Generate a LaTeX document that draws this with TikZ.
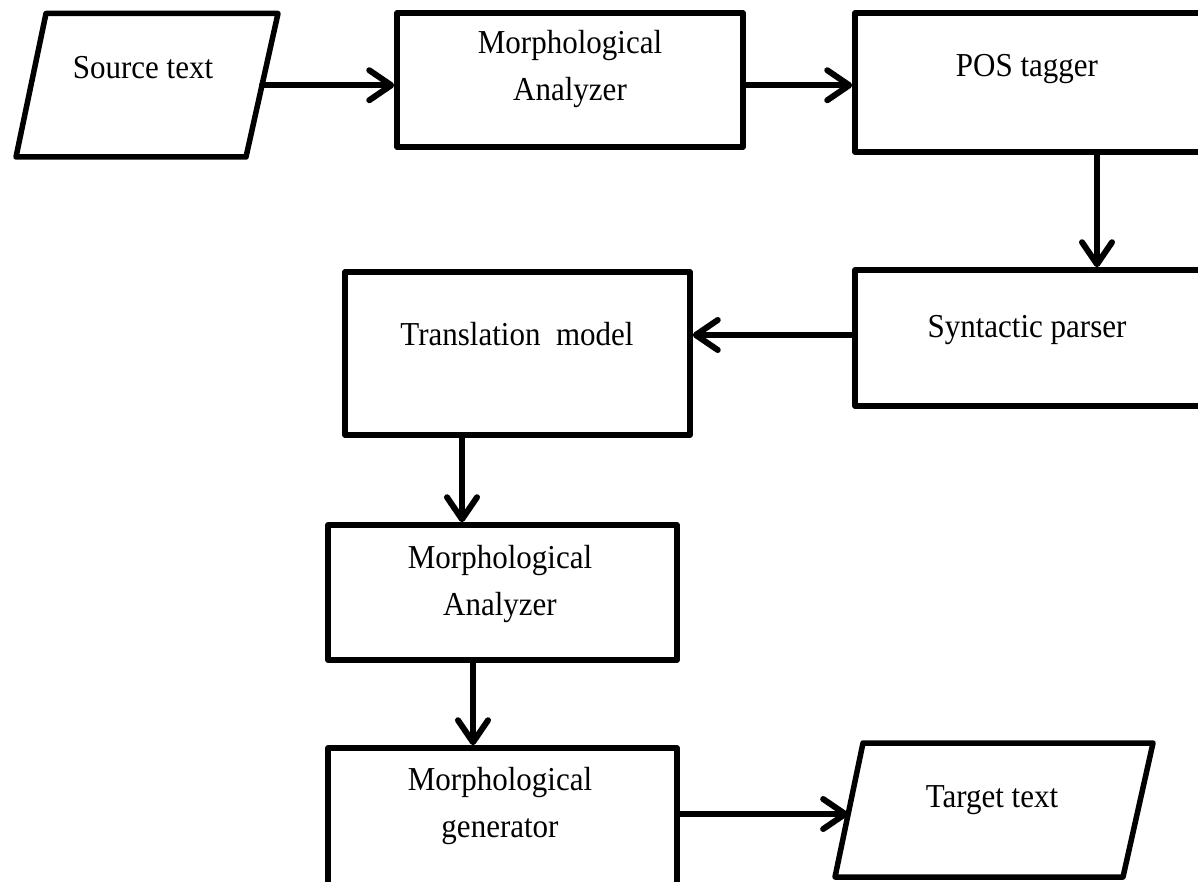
\documentclass[tikz,border=0pt]{standalone}
\usepackage{fontspec}
\usepackage{graphicx}
\setmainfont{Liberation Serif}
\usetikzlibrary{arrows.meta,calc}
% one line of label text, set slightly taller than wide
\newcommand{\tallline}[1]{\scalebox{1}[1.08]{#1}}
\begin{document}
\begin{tikzpicture}[x=1pt,y=-1pt,
  stage/.style={draw=black, line width=5.5pt, line join=round, fill=white,
    rectangle, inner sep=0pt},
  io/.style={draw=black, line width=5.5pt, line join=round, fill=white},
  lbl/.style={font=\fontsize{31}{47}\selectfont, align=center, inner sep=0pt,
    anchor=base, text=black},
  flow/.style={line width=6pt, line cap=round,
    -{Straight Barb[length=22pt,width=30pt,round]}},
]
\useasboundingbox (0,0) rectangle (1198,882);
\clip (0,0) rectangle (1198,882);

% input and output parallelograms
\coordinate (s1) at (46,13.5);  \coordinate (s2) at (278,13.5);
\coordinate (s3) at (246,157);  \coordinate (s4) at (16,157);
\draw[io] (s1) -- (s2) -- (s3) -- (s4) -- cycle;
\coordinate (src-out) at ($(s2)!0.5!(s3)$);

\coordinate (g1) at (863,743);  \coordinate (g2) at (1153,743);
\coordinate (g3) at (1123,877); \coordinate (g4) at (835,877);
\draw[io] (g1) -- (g2) -- (g3) -- (g4) -- cycle;
\coordinate (tgt-in) at ($(g1)!0.53!(g4)$);

% processing stages
\node[stage, minimum width=346pt, minimum height=134pt] (ma1) at (570,80) {};
\node[stage, minimum width=365pt, minimum height=139pt] (pos) at (1037.5,82.5) {};
\node[stage, minimum width=365pt, minimum height=136pt] (syn) at (1037.5,338) {};
\node[stage, minimum width=345pt, minimum height=163pt] (tm) at (517.5,353.5) {};
\node[stage, minimum width=349pt, minimum height=135pt] (ma2) at (502.5,592.5) {};
\node[stage, minimum width=349pt, minimum height=142pt] (gen) at (502.5,819) {};

% labels (base anchor = baseline of the last line)
\node[lbl] (t-src) at (143,79) {\tallline{Source text}};
\node[lbl] (t-ma1) at (570,101) {\tallline{Morphological}\\\tallline{Analyzer}};
\node[lbl] (t-pos) at (1027,77) {\tallline{POS tagger}};
\node[lbl] (t-syn) at (1027,337) {\tallline{Syntactic parser}};
\node[lbl] (t-tm) at (517,345) {\tallline{Translation\ \ model}};
\node[lbl] (t-ma2) at (500,615) {\tallline{Morphological}\\\tallline{Analyzer}};
\node[lbl] (t-gen) at (500,837) {\tallline{Morphological}\\\tallline{generator}};
\node[lbl] (t-tgt) at (992,807) {\tallline{Target text}};

% connectors
\coordinate (x-pos) at (1097,0);
\coordinate (x-tm) at (462,0);
\coordinate (x-ma2) at (473,0);
\draw[flow] (src-out) -- (ma1.west |- src-out);
\draw[flow] (ma1.east |- src-out) -- (pos.west |- src-out);
\draw[flow] (pos.south -| x-pos) -- (syn.north -| x-pos);
\draw[flow] (syn.west |- 0,335) -- (tm.east |- 0,335);
\draw[flow] (tm.south -| x-tm) -- (ma2.north -| x-tm);
\draw[flow] (ma2.south -| x-ma2) -- (gen.north -| x-ma2);
\draw[flow] (gen.east |- tgt-in) -- (tgt-in);
\end{tikzpicture}
\end{document}
